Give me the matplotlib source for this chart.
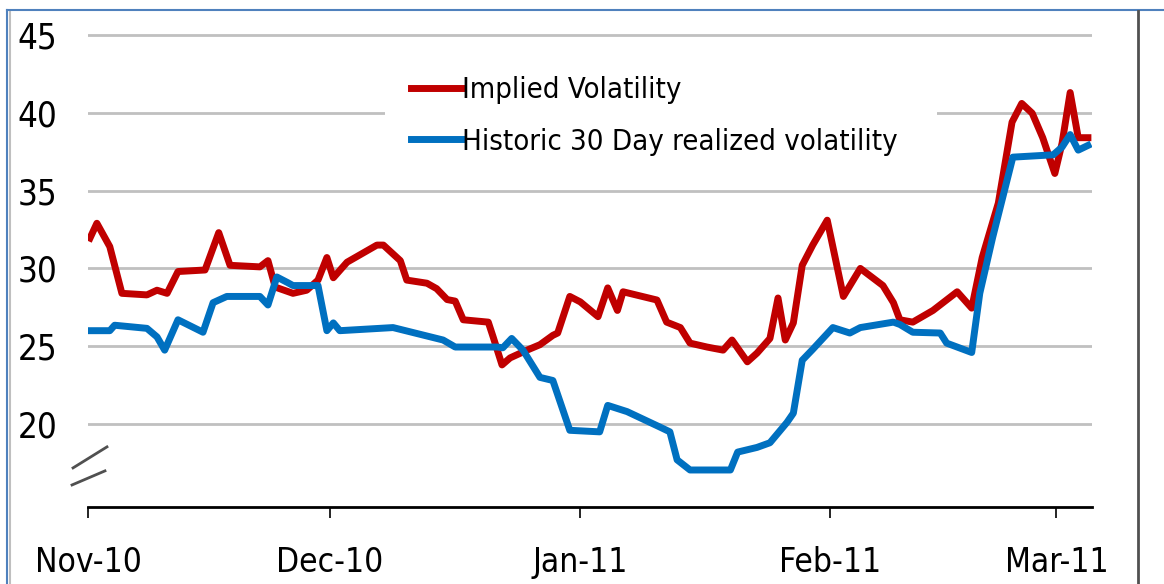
import matplotlib
matplotlib.use("Agg")
import matplotlib.pyplot as plt
import matplotlib.dates as mdates
from matplotlib.lines import Line2D
import numpy as np

plt.rcParams['font.family'] = ['DejaVu Sans']
plt.rcParams['font.stretch'] = 'condensed'

# days since 1 Nov 2010 and values
implied_days = [0.25, 1.1, 2.7, 4.2, 7.3, 8.55, 9.8, 11.15, 14.5, 16.2, 17.6, 21.3, 22.3,
                23.2, 25.4, 27.1, 28.5, 29.6, 30.4, 32.1, 35.8, 36.6, 38.7, 39.5, 42.0,
                43.2, 44.5, 45.5, 46.5, 49.6, 50.2, 51.3, 52.3, 54.4, 56.0, 57.6, 58.2,
                59.7, 61.0, 63.2, 64.4, 65.6, 66.3, 70.5, 71.7, 73.4, 74.6, 76.7, 78.7,
                79.8, 81.7, 82.9, 84.5, 85.5, 86.4, 87.4, 88.5, 89.8, 91.6, 93.6, 95.7,
                98.5, 99.8, 100.6, 102.2, 104.7, 107.7, 109.5, 110.8, 112.8, 114.5, 115.7,
                117.0, 118.3, 119.8, 120.7, 121.7, 122.7, 123.9]
implied_vol = [31.95, 32.9, 31.4, 28.4, 28.3, 28.6, 28.4, 29.8, 29.9, 32.3, 30.2, 30.1, 30.5,
               28.8, 28.4, 28.6, 29.25, 30.7, 29.4, 30.4, 31.5, 31.5, 30.5, 29.25, 29.05,
               28.7, 28.0, 27.9, 26.7, 26.55, 25.6, 23.8, 24.25, 24.75, 25.1, 25.7, 25.85,
               28.2, 27.85, 26.9, 28.75, 27.3, 28.5, 27.97, 26.55, 26.2, 25.2, 24.95, 24.75,
               25.4, 24.0, 24.56, 25.5, 28.1, 25.4, 26.5, 30.2, 31.5, 33.1, 28.2, 30.0,
               28.9, 27.8, 26.7, 26.55, 27.3, 28.5, 27.45, 30.7, 34.2, 39.4, 40.6,
               39.97, 38.4, 36.1, 38.05, 41.3, 38.4, 38.4]

hist_days = [0.25, 2.7, 3.3, 7.3, 8.55, 9.5, 11.15, 14.25, 15.5, 17.2, 21.3, 22.3, 23.4,
             24.7, 25.4, 28.5, 29.6, 30.4, 31.2, 37.8, 44.0, 45.5, 50.7, 51.4, 52.5, 53.9,
             56.0, 57.6, 59.7, 63.4, 64.4, 65.6, 66.8, 70.9, 72.1, 73.0, 74.6, 79.6, 80.5,
             82.9, 84.5, 86.6, 87.4, 88.5, 89.8, 92.3, 94.4, 95.7, 99.8, 100.6, 102.2,
             105.6, 106.4, 109.5, 110.5, 112.1, 114.6, 119.6, 120.7, 121.7, 122.7, 123.9]
hist_vol = [26.0, 26.0, 26.35, 26.15, 25.6, 24.75, 26.7, 25.9, 27.8, 28.2, 28.2, 27.65, 29.45,
            29.1, 28.9, 28.9, 26.0, 26.5, 26.0, 26.2, 25.4, 24.95, 24.95, 24.9, 25.5, 24.75,
            23.0, 22.8, 19.6, 19.5, 21.2, 21.0, 20.8, 19.8, 19.5, 17.7, 17.05, 17.05, 18.2,
            18.5, 18.8, 20.1, 20.7, 24.1, 24.8, 26.2, 25.85, 26.2, 26.55, 26.4, 25.9,
            25.85, 25.2, 24.6, 28.4, 32.0, 37.15, 37.3, 37.8, 38.6, 37.6, 37.9]

labels = ['Implied Volatility', 'Historic 30 Day realized volatility']
y_ticks = [20, 25, 30, 35, 40, 45]

base = mdates.date2num(np.datetime64('2010-11-01'))

fig = plt.figure(figsize=(11.64, 5.84), dpi=100)
ax = fig.add_axes([0.0756, 0.1318, 0.8625, 0.811])

ax.plot(base + np.array(implied_days), implied_vol, color='#C00000', lw=5, label=labels[0],
        solid_joinstyle='round', zorder=3)
ax.plot(base + np.array(hist_days), hist_vol, color='#0070C0', lw=5, label=labels[1],
        solid_joinstyle='round', zorder=3)

ax.set_ylim(14.67, 45.1)
ax.set_xlim(base, base + 124.4)
ax.set_yticks(y_ticks)
ax.yaxis.grid(True, color='#C0C0C0', lw=2)
ax.set_axisbelow(True)

ax.xaxis.set_major_locator(mdates.MonthLocator())
ax.xaxis.set_major_formatter(mdates.DateFormatter('%b-%y'))

for s in ['top', 'right', 'left']:
    ax.spines[s].set_visible(False)
ax.spines['bottom'].set_linewidth(2)
ax.tick_params(axis='y', length=0, pad=22, labelsize=25)
ax.tick_params(axis='x', length=8, width=1.2, pad=20, labelsize=24)

# axis break marks
ax.plot([-0.0149, 0.0189], [0.0826, 0.127], transform=ax.transAxes, clip_on=False,
        color='#505050', lw=2)
ax.plot([-0.0159, 0.0169], [0.0466, 0.0763], transform=ax.transAxes, clip_on=False,
        color='#505050', lw=2)

leg = ax.legend(loc='upper left', bbox_to_anchor=(0.296, 0.866, 0.55, 0.1), mode='expand',
                frameon=True, fancybox=False, fontsize=21, handlelength=1.7,
                handletextpad=0.05, labelspacing=0.82, borderpad=0.9, borderaxespad=0)
leg.get_frame().set_facecolor('white')
leg.get_frame().set_edgecolor('none')
leg.get_frame().set_alpha(1)

# page frame
fig.add_artist(Line2D([7 / 1164, 7 / 1164], [0, 1 - 10 / 584], color='#4F81BD', lw=1.5))
fig.add_artist(Line2D([10 / 1164, 10 / 1164], [0, 1 - 12 / 584], color='#BFBFBF', lw=1.5))
fig.add_artist(Line2D([7 / 1164, 1], [1 - 10 / 584, 1 - 10 / 584], color='#4F81BD', lw=1.5))
fig.add_artist(Line2D([1138 / 1164, 1138 / 1164], [0, 1 - 11 / 584], color='#505050', lw=2))

fig.savefig('out.png', dpi=100)
